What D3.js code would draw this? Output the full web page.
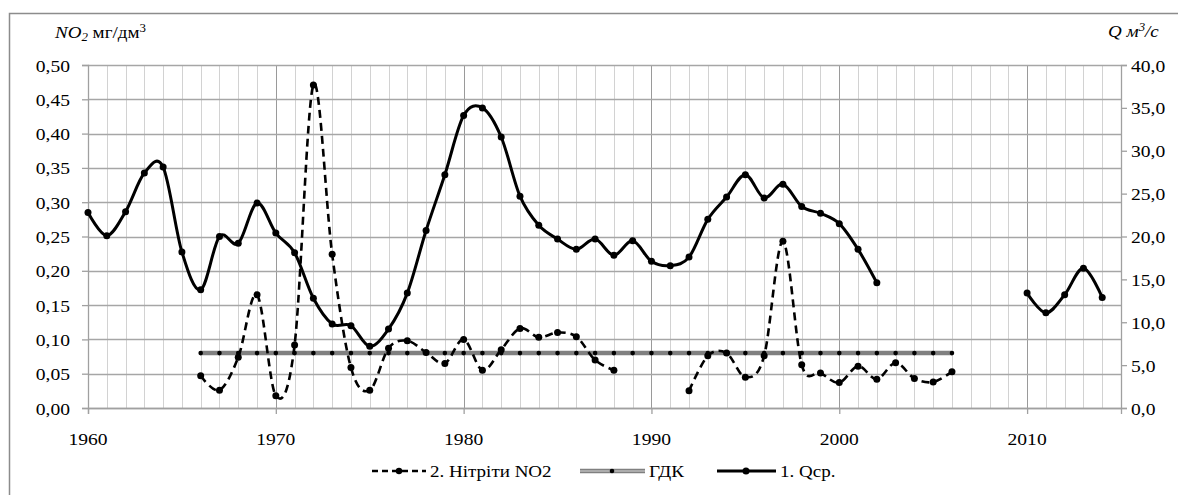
<!DOCTYPE html>
<html><head><meta charset="utf-8">
<script src="https://cdn.jsdelivr.net/npm/d3@7"></script>
</head><body style="margin:0;background:#fff"><svg id="c" width="1178" height="495" style="display:block"></svg>
<script>
const qYears = [1960,1961,1962,1963,1964,1965,1966,1967,1968,1969,1970,1971,1972,1973,1974,1975,1976,1977,1978,1979,1980,1981,1982,1983,1984,1985,1986,1987,1988,1989,1990,1991,1992,1993,1994,1995,1996,1997,1998,1999,2000,2001,2002,null,2010,2011,2012,2013,2014];
const qValues = [22.8,20.1,22.9,27.4,28.1,18.2,13.8,20.0,19.2,23.9,20.4,18.1,12.8,9.8,9.6,7.2,9.2,13.4,20.7,27.2,34.1,35.0,31.6,24.7,21.3,19.7,18.5,19.7,17.8,19.5,17.1,16.6,17.6,22.0,24.6,27.2,24.5,26.1,23.5,22.7,21.5,18.5,14.6,null,13.4,11.1,13.2,16.3,12.9];
const no2Years = [1966,1967,1968,1969,1970,1971,1972,1973,1974,1975,1976,1977,1978,1979,1980,1981,1982,1983,1984,1985,1986,1987,1988,null,1992,1993,1994,1995,1996,1997,1998,1999,2000,2001,2002,2003,2004,2005,2006];
const no2Values = [0.047,0.026,0.074,0.165,0.018,0.092,0.471,0.224,0.059,0.026,0.087,0.098,0.081,0.065,0.100,0.055,0.085,0.116,0.103,0.110,0.104,0.070,0.055,null,0.025,0.076,0.080,0.045,0.076,0.243,0.063,0.051,0.037,0.061,0.042,0.066,0.043,0.038,0.053];
const gdkYears = d3.range(1966, 2007);
const gdkValue = 0.08;
const leftTicks = [0,0.05,0.10,0.15,0.20,0.25,0.30,0.35,0.40,0.45,0.50];
const rightTicks = [0,5,10,15,20,25,30,35,40];
const xTicks = [1960,1970,1980,1990,2000,2010];
const legendLabels = ["2. Нітріти NO2","ГДК","1. Qср."];

const FONT = '"Liberation Serif"';
const svg = d3.select("#c");
const x = d3.scaleLinear().domain([1960, 2015]).range([88, 1121]);
const yL = d3.scaleLinear().domain([0, 0.5]).range([408, 65]);
const yR = d3.scaleLinear().domain([0, 40]).range([408, 65]);

function txt(parent, xx, yy, size, s, anchor) {
  return parent.append("text").attr("x", 0).attr("y", 0)
    .attr("transform", `translate(${xx},${yy}) scale(1.12,1)`)
    .attr("font-size", size).attr("fill", "#000")
    .style("font-family", FONT).attr("text-anchor", anchor || "start").text(s);
}

// outer border
svg.append("rect").attr("x",9.5).attr("y",13.5).attr("width",1200).attr("height",500)
  .attr("fill","none").attr("stroke","#8c8c8c").attr("stroke-width",1.5);

// grid
const g = svg.append("g");
d3.range(1961, 2015).forEach(yr => {
  g.append("line").attr("x1",Math.round(x(yr))+0.5).attr("x2",Math.round(x(yr))+0.5)
   .attr("y1",yL(0.5)).attr("y2",yL(0))
   .attr("stroke", yr%10===0 ? "#9a9a9a" : "#d2d2d2").attr("stroke-width",1);
});
leftTicks.forEach(t => {
  g.append("line").attr("x1",x(1960)).attr("x2",x(2015))
   .attr("y1",Math.round(yL(t))+0.5).attr("y2",Math.round(yL(t))+0.5)
   .attr("stroke","#a6a6a6").attr("stroke-width",1.3);
});

// axes (lines via d3 axis, labels as explicit text)
const axL = d3.axisLeft(yL).tickValues(leftTicks).tickSize(6).tickFormat("");
const aL = svg.append("g").attr("transform",`translate(${x(1960)},0)`).call(axL);
const axR = d3.axisRight(yR).tickValues(rightTicks).tickSize(6).tickFormat("");
const aR = svg.append("g").attr("transform",`translate(${x(2015)},0)`).call(axR);
const axB = d3.axisBottom(x).tickValues(xTicks).tickSize(6).tickFormat("");
const aB = svg.append("g").attr("transform",`translate(0,${yL(0)})`).call(axB);
[aL,aR,aB].forEach(a => {
  a.selectAll("path").attr("stroke","#a0a0a0").attr("stroke-width",1.3);
  a.selectAll("line").attr("stroke","#a0a0a0").attr("stroke-width",1.3);
});
const labels = svg.append("g");
leftTicks.forEach(t => txt(labels, 70, yL(t)+6.5, 17.5, d3.format(".2f")(t).replace(".", ","), "end"));
rightTicks.forEach(t => txt(labels, 1131, yR(t)+6.5, 17.5, d3.format(".1f")(t).replace(".", ","), "start"));
xTicks.forEach(t => txt(labels, x(t), 445, 17.5, d3.format("d")(t), "middle"));

// axis titles
const tl = txt(svg, 55, 38, 17, "");
tl.append("tspan").attr("font-style","italic").text("NO");
tl.append("tspan").attr("font-style","italic").attr("font-size",11.5).attr("dy",3).text("2");
tl.append("tspan").attr("dy",-3).text(" мг/дм");
tl.append("tspan").attr("font-size",11.5).attr("dy",-6).text("3");
const tr = txt(svg, 1108, 37, 17, "").attr("font-style","italic");
tr.append("tspan").text("Q м");
tr.append("tspan").attr("font-size",11.5).attr("dy",-6).text("3");
tr.append("tspan").attr("dy",6).text("/с");

const curve = d3.curveCardinal.tension(0);

// GDK
const gdk = gdkYears.map(yr => ({x: yr, y: gdkValue}));
svg.append("path").datum(gdk).attr("fill","none").attr("stroke","#808080").attr("stroke-width",4.5)
  .attr("d", d3.line().x(d=>x(d.x)).y(d=>yL(d.y)));
svg.append("g").selectAll("circle").data(gdk).join("circle")
  .attr("cx",d=>x(d.x)).attr("cy",d=>yL(d.y)).attr("r",2.3).attr("fill","#000");

// NO2
const no2 = no2Years.map((yr,i)=>({x:yr, y:no2Values[i]}));
svg.append("path").datum(no2).attr("fill","none").attr("stroke","#000").attr("stroke-width",2.6)
  .attr("stroke-dasharray","8,5")
  .attr("d", d3.line().defined(d=>d.x!==null && d.y!==null).x(d=>x(d.x)).y(d=>yL(d.y)).curve(curve));
svg.append("g").selectAll("circle").data(no2.filter(d=>d.x!==null)).join("circle")
  .attr("cx",d=>x(d.x)).attr("cy",d=>yL(d.y)).attr("r",3.5).attr("fill","#000");

// Q
const q = qYears.map((yr,i)=>({x:yr, y:qValues[i]}));
svg.append("path").datum(q).attr("fill","none").attr("stroke","#000").attr("stroke-width",3)
  .attr("d", d3.line().defined(d=>d.x!==null && d.y!==null).x(d=>x(d.x)).y(d=>yR(d.y)).curve(curve));
svg.append("g").selectAll("circle").data(q.filter(d=>d.x!==null)).join("circle")
  .attr("cx",d=>x(d.x)).attr("cy",d=>yR(d.y)).attr("r",3.5).attr("fill","#000");

// legend
const ly = 471;
const lg = svg.append("g");
lg.append("line").attr("x1",372).attr("x2",426).attr("y1",ly).attr("y2",ly)
  .attr("stroke","#000").attr("stroke-width",2.6).attr("stroke-dasharray","6,4");
lg.append("circle").attr("cx",399).attr("cy",ly).attr("r",3.2).attr("fill","#000");
txt(lg, 430, ly+6, 17, legendLabels[0]);
lg.append("line").attr("x1",580).attr("x2",645).attr("y1",ly).attr("y2",ly)
  .attr("stroke","#808080").attr("stroke-width",4.5);
lg.append("line").attr("x1",580).attr("x2",645).attr("y1",ly).attr("y2",ly)
  .attr("stroke","#d8d8d8").attr("stroke-width",1.2);
lg.append("circle").attr("cx",612).attr("cy",ly).attr("r",2.3).attr("fill","#000");
txt(lg, 649, ly+6, 17, legendLabels[1]);
lg.append("line").attr("x1",717).attr("x2",776).attr("y1",ly).attr("y2",ly)
  .attr("stroke","#000").attr("stroke-width",3);
lg.append("circle").attr("cx",746).attr("cy",ly).attr("r",3.5).attr("fill","#000");
txt(lg, 780, ly+6, 17, legendLabels[2]);
</script></body></html>
